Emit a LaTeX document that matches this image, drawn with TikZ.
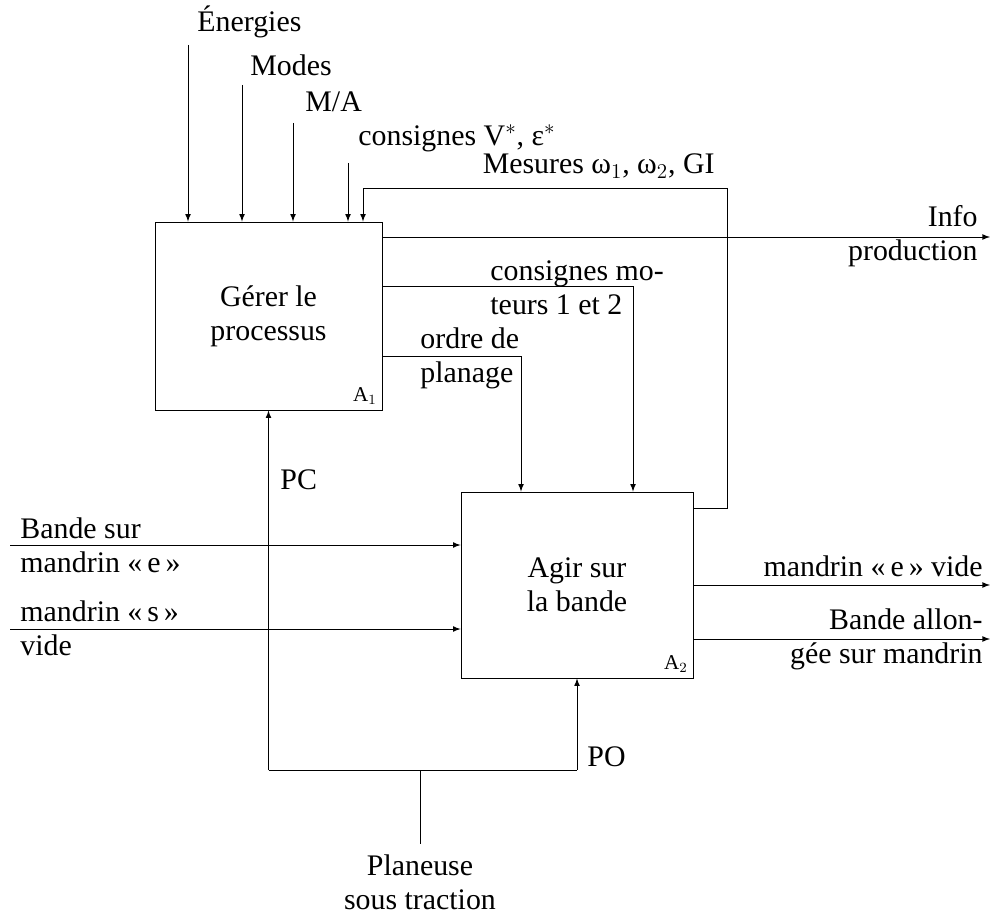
\documentclass[tikz,border=0pt]{standalone}
\usepackage{fontspec}
\setmainfont{Liberation Serif}
\usepackage{tikz}
\tikzset{font={\fontsize{17}{19.35}\selectfont}}
\usetikzlibrary{arrows}

\begin{document}
\begin{tikzpicture}[x=0.02cm,y=-0.02cm,->,>=latex,line width=0.5pt,
                    bloc/.style={draw,align=center,inner sep=0pt},
                    txt/.style={align=left,inner sep=0pt},
                    idx/.style={font=\fontsize{12}{14}\selectfont,inner sep=3pt}]
  \useasboundingbox (0,0) rectangle (990,915);

  % les deux blocs
  \node[bloc,minimum width=4.54cm,minimum height=3.76cm] (A1) at (268.5,316) {Gérer le\\processus};
  \node[bloc,minimum width=4.64cm,minimum height=3.72cm] (A2) at (577,585) {Agir sur\\la bande};
  \node[idx,anchor=south east] (a1) at (A1.south east) {A$_1$};
  \node[idx,anchor=south east] (a2) at (A2.south east) {A$_2$};

  % entrees du haut
  \coordinate (en) at (188,45);
  \coordinate (mo) at (242,85);
  \coordinate (ma) at (293,123);
  \coordinate (cs) at (348,163);
  \node[txt,anchor=base west] (enl) at (197,32) {Énergies};
  \node[txt,anchor=base west] (mol) at (250,76) {Modes};
  \node[txt,anchor=base west] (mal) at (305,112) {M/A};
  \node[txt,anchor=base west] (csl) at (358,146) {consignes V$^*$, ε$^*$};
  \draw (en) -- (en |- A1.north);
  \draw (mo) -- (mo |- A1.north);
  \draw (ma) -- (ma |- A1.north);
  \draw (cs) -- (cs |- A1.north);

  % mesures
  \coordinate (m1) at (727,508);
  \coordinate (m2) at (727,188);
  \coordinate (m3) at (363,188);
  \node[txt,anchor=base east] (mesl) at (715,174) {Mesures ω$_1$, ω$_2$, GI};
  \draw (m1 -| A2.east) -- (m1) -- (m2) -- (m3) -- (m3 |- A1.north);

  % sorties de A1
  \coordinate (inf) at (990,237);
  \coordinate (cm) at (633,286);
  \coordinate (op) at (521,356);
  \node[txt,align=right,anchor=east] (infl) at (978,236) {Info\\production};
  \node[txt,anchor=west] (cml) at (490,288) {consignes mo-\\teurs 1 et 2};
  \node[txt,anchor=west] (opl) at (420,358) {ordre de\\planage};
  \draw (A1.east |- inf) -- (inf);
  \draw (A1.east |- cm) -- (cm) -- (cm |- A2.north);
  \draw (A1.east |- op) -- (op) -- (op |- A2.north);

  % entrees de A2
  \coordinate (bs) at (10,545);
  \coordinate (ms) at (10,629);
  \node[txt,anchor=west] (bsl) at (20,545) {Bande sur\\mandrin «\,e\,»};
  \node[txt,anchor=west] (msl) at (20,628) {mandrin «\,s\,»\\vide};
  \draw (bs) -- (bs -| A2.west);
  \draw (ms) -- (ms -| A2.west);

  % sorties de A2
  \coordinate (ev) at (990,585);
  \coordinate (ba) at (990,639);
  \node[txt,anchor=base east] (evl) at (983,576) {mandrin «\,e\,» vide};
  \node[txt,align=right,anchor=east] (bal) at (983,639) {Bande allon-\\gée sur mandrin};
  \draw (ev -| A2.east) -- (ev);
  \draw (ba -| A2.east) -- (ba);

  % support
  \coordinate (pc) at (268.5,770);
  \coordinate (po) at (577,770);
  \coordinate (pl) at (420,770);
  \node[txt,align=center] (plan) at (420,882) {Planeuse\\sous traction};
  \node[txt,anchor=west] (pcl) at (280,480) {PC};
  \node[txt,anchor=west] (pol) at (587,757) {PO};
  \draw (pc) -- (A1.south);
  \draw[-] (pc) -- (po);
  \draw (po) -- (A2.south);
  \draw[-] (pl) -- ([yshift=6pt]plan.north);
\end{tikzpicture}
\end{document}
